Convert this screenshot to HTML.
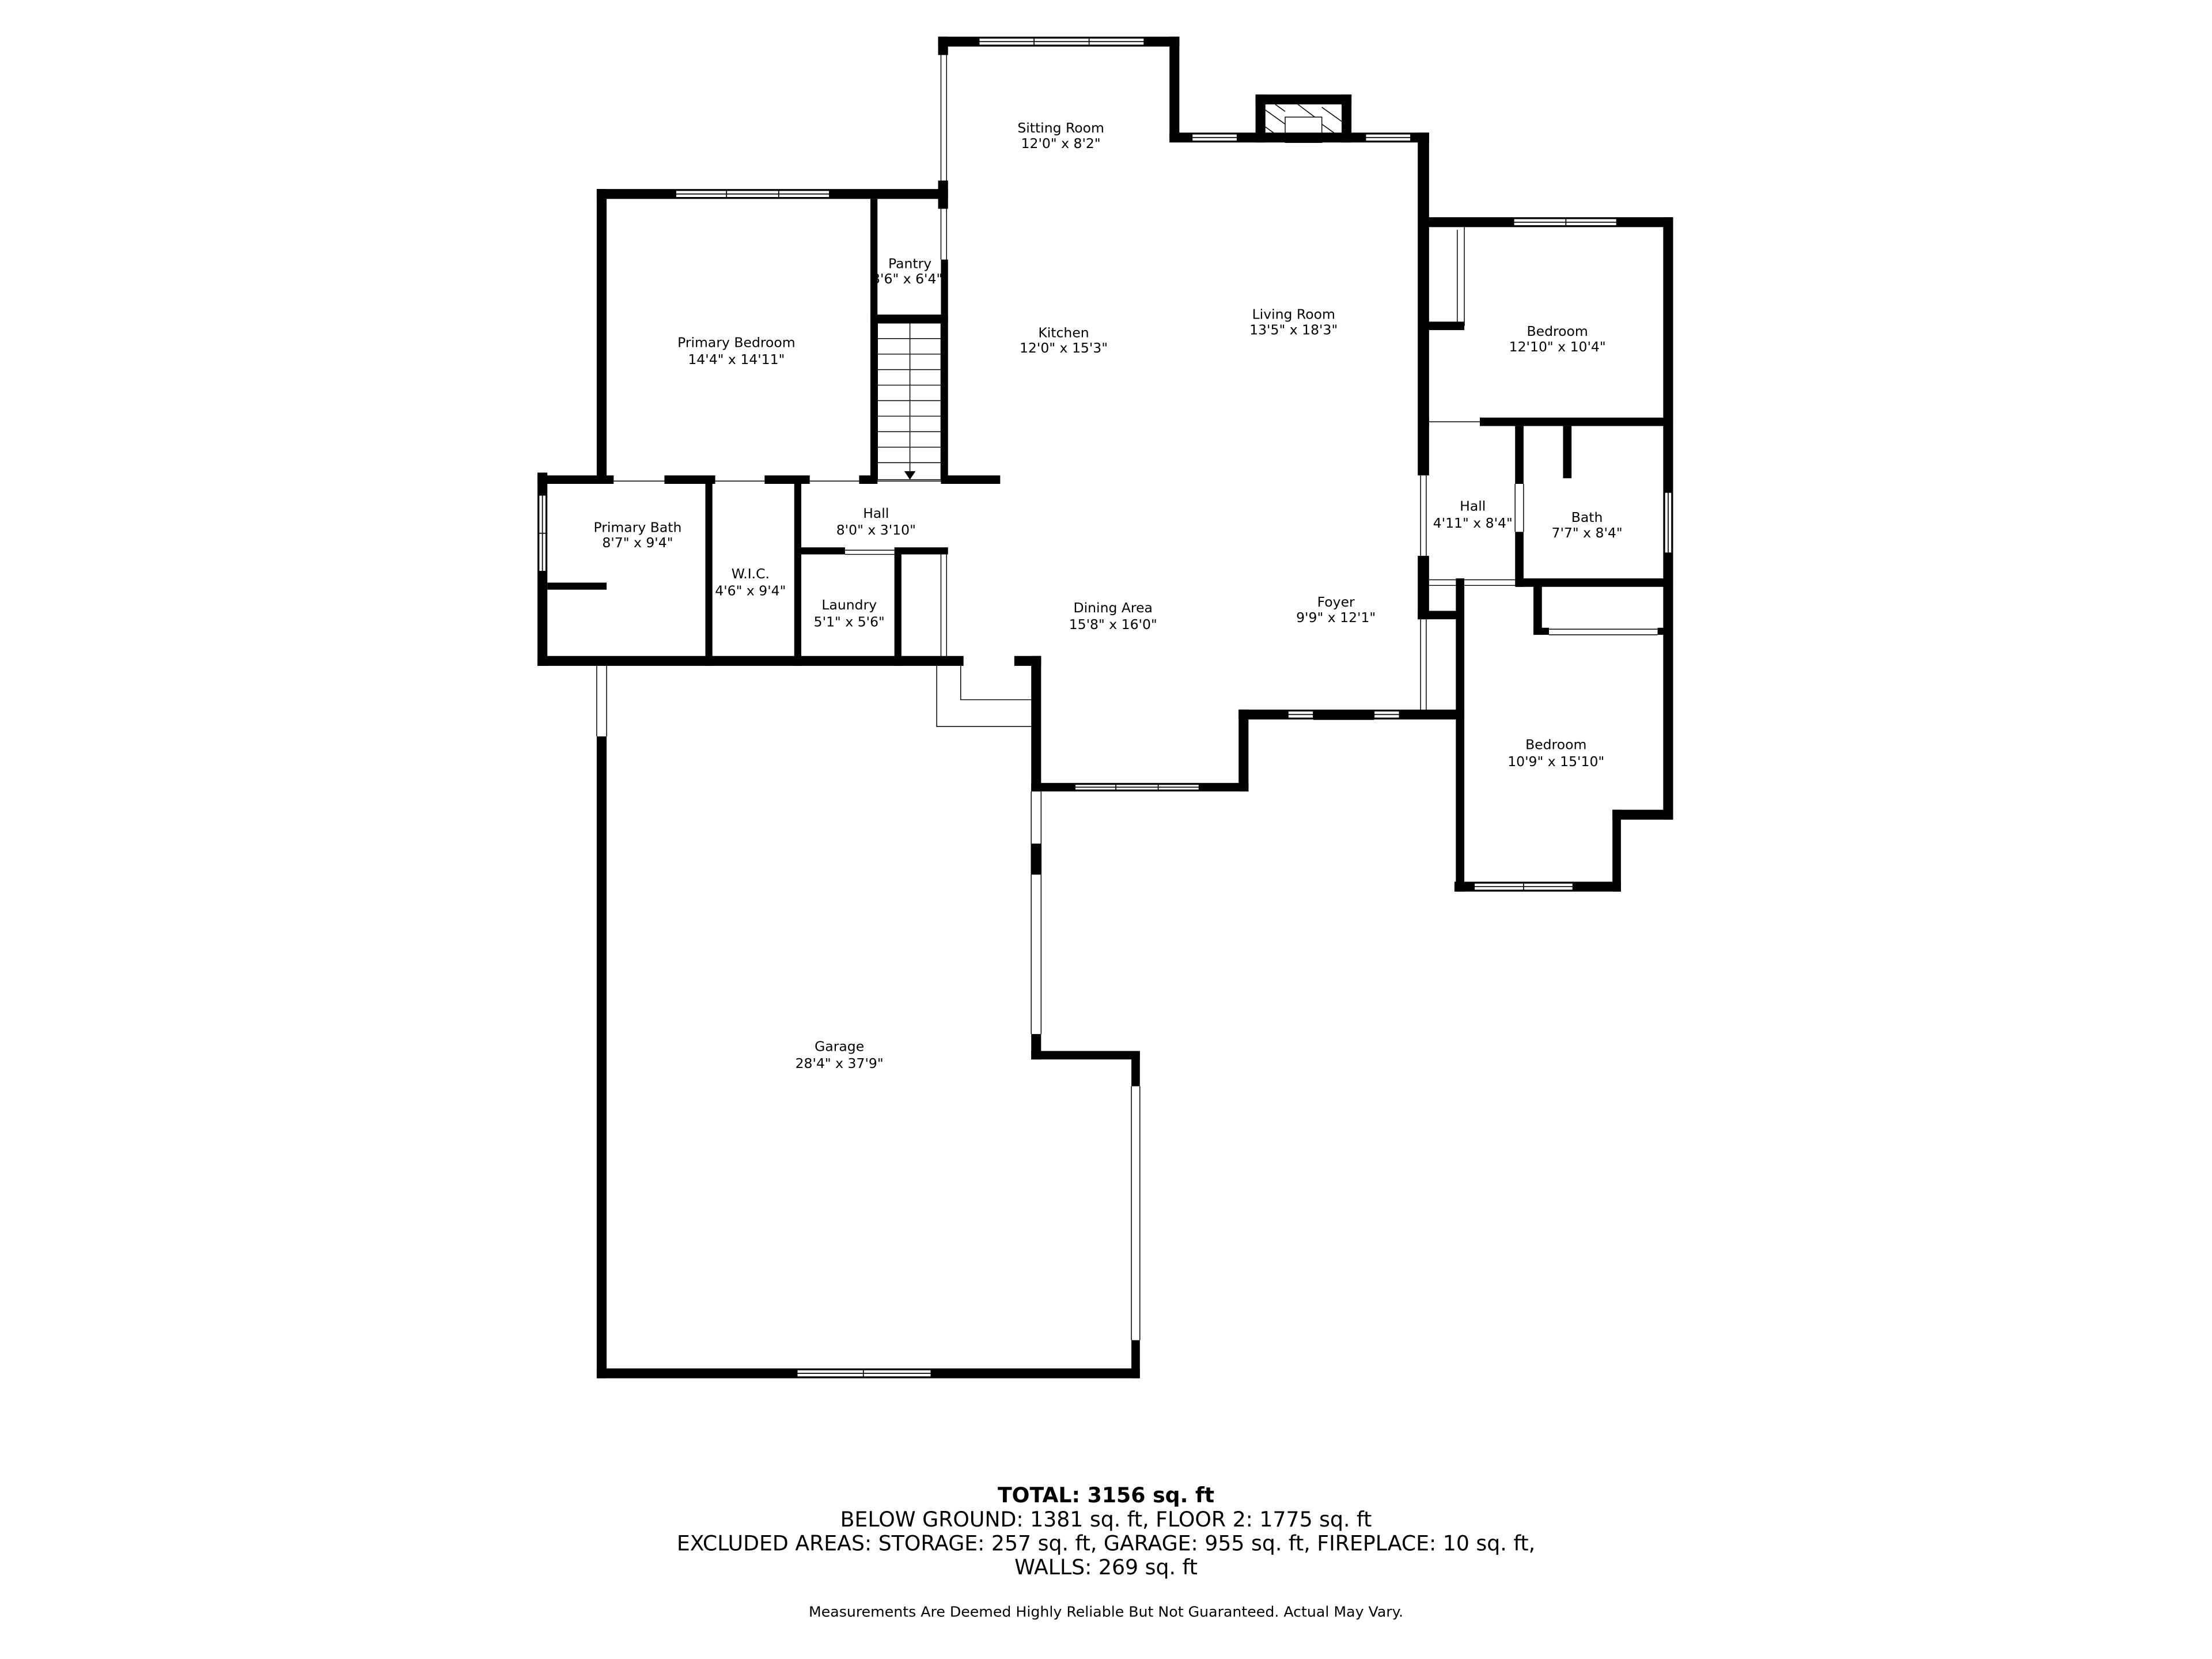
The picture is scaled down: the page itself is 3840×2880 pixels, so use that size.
<!DOCTYPE html>
<html><head><meta charset="utf-8"><style>
html,body{margin:0;padding:0;background:#fff}
svg{display:block}
text{font-family:"DejaVu Sans","Liberation Sans",sans-serif;fill:#000;text-anchor:middle}
</style></head><body>
<svg width="3840" height="2880" viewBox="0 0 1568 1176" xmlns="http://www.w3.org/2000/svg">
<rect width="1568" height="1176" fill="#fff"/>
<g fill="#000">
<rect x="665" y="26" width="171" height="7"/>
<rect x="665" y="26" width="7" height="13"/>
<rect x="665" y="128" width="7" height="20"/>
<rect x="667" y="184" width="5" height="157"/>
<rect x="829" y="26" width="7" height="74"/>
<rect x="829" y="94" width="184" height="7"/>
<rect x="890" y="67" width="68" height="7"/>
<rect x="890" y="67" width="7" height="34"/>
<rect x="951" y="67" width="7" height="34"/>
<rect x="423" y="134" width="249" height="7"/>
<rect x="423" y="134" width="7" height="209"/>
<rect x="617" y="141" width="5" height="201"/>
<rect x="617" y="223" width="55" height="6"/>
<rect x="381" y="337" width="54" height="6"/>
<rect x="471" y="337" width="36" height="6"/>
<rect x="542" y="337" width="32" height="6"/>
<rect x="609" y="337" width="13" height="6"/>
<rect x="667" y="337" width="42" height="6"/>
<rect x="381" y="335" width="7" height="137"/>
<rect x="388" y="413" width="42" height="5"/>
<rect x="500" y="342" width="5" height="130"/>
<rect x="563" y="342" width="5" height="130"/>
<rect x="568" y="388" width="31" height="5"/>
<rect x="634" y="388" width="38" height="5"/>
<rect x="634" y="393" width="5" height="79"/>
<rect x="381" y="465" width="302" height="7"/>
<rect x="719" y="465" width="19" height="7"/>
<rect x="731" y="465" width="7" height="96"/>
<rect x="731" y="555" width="154" height="6"/>
<rect x="878" y="503" width="7" height="58"/>
<rect x="878" y="503" width="160" height="7"/>
<rect x="1005" y="94" width="8" height="243"/>
<rect x="1005" y="394" width="8" height="45"/>
<rect x="1005" y="433" width="28" height="6"/>
<rect x="1007" y="154" width="179" height="7"/>
<rect x="1179" y="154" width="7" height="427"/>
<rect x="1007" y="228" width="31" height="6"/>
<rect x="1049" y="296" width="137" height="6"/>
<rect x="1007" y="296" width="6" height="6"/>
<rect x="1074" y="302" width="6" height="41"/>
<rect x="1074" y="377" width="6" height="39"/>
<rect x="1108" y="302" width="6" height="37"/>
<rect x="1075" y="410" width="111" height="6"/>
<rect x="1032" y="410" width="6" height="222"/>
<rect x="1087" y="414" width="6" height="36"/>
<rect x="1087" y="445" width="11" height="5"/>
<rect x="1175" y="445" width="11" height="5"/>
<rect x="1143" y="574" width="43" height="7"/>
<rect x="1143" y="574" width="6" height="58"/>
<rect x="1031" y="625" width="118" height="7"/>
<rect x="423" y="522" width="7" height="455"/>
<rect x="731" y="598" width="7" height="22"/>
<rect x="731" y="733" width="7" height="18"/>
<rect x="731" y="745" width="77" height="6"/>
<rect x="802" y="745" width="6" height="25"/>
<rect x="802" y="950" width="6" height="27"/>
<rect x="423" y="970" width="385" height="7"/>
</g>
<g stroke="#000" stroke-width="0.6" fill="none">
<line x1="667" y1="39" x2="667" y2="128"/><line x1="671" y1="39" x2="671" y2="128"/>
<line x1="667" y1="148" x2="667" y2="184"/><line x1="671" y1="148" x2="671" y2="184"/>
<line x1="1007" y1="337" x2="1007" y2="394"/><line x1="1011" y1="337" x2="1011" y2="394"/>
<line x1="1007" y1="439" x2="1007" y2="503"/><line x1="1011" y1="439" x2="1011" y2="503"/>
<line x1="1033" y1="163" x2="1033" y2="231"/><line x1="1038" y1="161" x2="1038" y2="231"/>
<line x1="1011" y1="299" x2="1049" y2="299"/>
<line x1="1074" y1="343" x2="1074" y2="377"/><line x1="1080" y1="343" x2="1080" y2="377"/>
<line x1="1010" y1="411" x2="1075" y2="411"/><line x1="1010" y1="415" x2="1075" y2="415"/>
<line x1="1098" y1="446" x2="1175" y2="446"/><line x1="1098" y1="450" x2="1175" y2="450"/>
<line x1="931" y1="506" x2="974" y2="506"/><line x1="931" y1="510" x2="974" y2="510"/>
<line x1="599" y1="390" x2="634" y2="390"/><line x1="599" y1="393" x2="634" y2="393"/>
<line x1="667" y1="393" x2="667" y2="466"/><line x1="671" y1="393" x2="671" y2="466"/>
<line x1="435" y1="341" x2="471" y2="341"/><line x1="507" y1="341" x2="542" y2="341"/><line x1="574" y1="341" x2="609" y2="341"/><line x1="622" y1="341" x2="667" y2="341"/>
<line x1="423" y1="472" x2="423" y2="522"/><line x1="430" y1="472" x2="430" y2="522"/>
<line x1="731" y1="561" x2="731" y2="733"/><line x1="738" y1="561" x2="738" y2="733"/>
<line x1="802" y1="770" x2="802" y2="950"/><line x1="808" y1="770" x2="808" y2="950"/>
<polyline points="664,472 664,515 731,515"/>
<polyline points="681,472 681,496 731,496"/>
<rect x="622" y="229" width="45" height="111"/>
<line x1="622" y1="240" x2="667" y2="240"/><line x1="622" y1="251" x2="667" y2="251"/><line x1="622" y1="262" x2="667" y2="262"/><line x1="622" y1="273" x2="667" y2="273"/><line x1="622" y1="284" x2="667" y2="284"/><line x1="622" y1="295" x2="667" y2="295"/><line x1="622" y1="306" x2="667" y2="306"/><line x1="622" y1="317" x2="667" y2="317"/><line x1="622" y1="328" x2="667" y2="328"/>
<line x1="645" y1="229" x2="645" y2="338"/>
<line x1="897" y1="78" x2="911" y2="88"/><line x1="897" y1="90" x2="911" y2="100"/><line x1="904" y1="74" x2="911" y2="79"/>
<line x1="937" y1="76" x2="951" y2="86"/><line x1="937" y1="88" x2="951" y2="98"/><line x1="920" y1="74" x2="932" y2="83"/>
<rect x="911" y="83" width="26" height="18"/>
</g>
<polygon points="641,334 649,334 645,340" fill="#000"/>
<g fill="#fff" stroke="#000" stroke-width="0.7">
<rect x="694" y="27" width="117" height="5"/><line x1="694" y1="29.5" x2="811" y2="29.5"/><line x1="733" y1="27" x2="733" y2="32"/><line x1="772" y1="27" x2="772" y2="32"/>
<rect x="479" y="135" width="109" height="5"/><line x1="479" y1="137.5" x2="588" y2="137.5"/><line x1="515" y1="135" x2="515" y2="140"/><line x1="552" y1="135" x2="552" y2="140"/>
<rect x="845" y="95" width="32" height="5"/><line x1="845" y1="97.5" x2="877" y2="97.5"/>
<rect x="968" y="95" width="32" height="5"/><line x1="968" y1="97.5" x2="1000" y2="97.5"/>
<rect x="1073" y="155" width="73" height="5"/><line x1="1073" y1="157.5" x2="1146" y2="157.5"/><line x1="1110" y1="155" x2="1110" y2="160"/>
<rect x="1180" y="349" width="5" height="43"/><line x1="1182.5" y1="349" x2="1182.5" y2="392"/>
<rect x="382" y="351" width="5" height="54"/><line x1="384.5" y1="351" x2="384.5" y2="405"/><line x1="382" y1="378" x2="387" y2="378"/>
<rect x="1045" y="626" width="70" height="5"/><line x1="1045" y1="628.5" x2="1115" y2="628.5"/><line x1="1080" y1="626" x2="1080" y2="631"/>
<rect x="913" y="504" width="18" height="5"/><line x1="913" y1="506.5" x2="931" y2="506.5"/>
<rect x="974" y="504" width="18" height="5"/><line x1="974" y1="506.5" x2="992" y2="506.5"/>
<rect x="762" y="556" width="88" height="4"/><line x1="762" y1="558" x2="850" y2="558"/><line x1="791" y1="556" x2="791" y2="560"/><line x1="821" y1="556" x2="821" y2="560"/>
<rect x="565" y="971" width="95" height="5"/><line x1="565" y1="973.5" x2="660" y2="973.5"/><line x1="612" y1="971" x2="612" y2="976"/>
</g>
<g font-size="9.6">
<text x="752" y="94">Sitting Room</text><text x="752" y="105">12'0" x 8'2"</text>
<text x="522" y="246">Primary Bedroom</text><text x="522" y="258">14'4" x 14'11"</text>
<text x="645" y="190">Pantry</text><text x="643" y="201">3'6" x 6'4"</text>
<text x="754" y="239">Kitchen</text><text x="754" y="250">12'0" x 15'3"</text>
<text x="917" y="226">Living Room</text><text x="917" y="237">13'5" x 18'3"</text>
<text x="1104" y="238">Bedroom</text><text x="1104" y="249">12'10" x 10'4"</text>
<text x="621" y="367">Hall</text><text x="621" y="379">8'0" x 3'10"</text>
<text x="452" y="377">Primary Bath</text><text x="452" y="388">8'7" x 9'4"</text>
<text x="532" y="410">W.I.C.</text><text x="532" y="422">4'6" x 9'4"</text>
<text x="602" y="432">Laundry</text><text x="602" y="444">5'1" x 5'6"</text>
<text x="789" y="434">Dining Area</text><text x="789" y="446">15'8" x 16'0"</text>
<text x="947" y="430">Foyer</text><text x="947" y="441">9'9" x 12'1"</text>
<text x="1044" y="362">Hall</text><text x="1044" y="374">4'11" x 8'4"</text>
<text x="1125" y="370">Bath</text><text x="1125" y="381">7'7" x 8'4"</text>
<text x="1103" y="531">Bedroom</text><text x="1103" y="543">10'9" x 15'10"</text>
<text x="595" y="745">Garage</text><text x="595" y="757">28'4" x 37'9"</text>
</g>
<g font-size="14.8">
<text x="784" y="1065" font-weight="bold">TOTAL: 3156 sq. ft</text>
<text x="784" y="1082">BELOW GROUND: 1381 sq. ft, FLOOR 2: 1775 sq. ft</text>
<text x="784" y="1099">EXCLUDED AREAS: STORAGE: 257 sq. ft, GARAGE: 955 sq. ft, FIREPLACE: 10 sq. ft,</text>
<text x="784" y="1116">WALLS: 269 sq. ft</text>
</g>
<text x="784" y="1146" font-size="10.3">Measurements Are Deemed Highly Reliable But Not Guaranteed. Actual May Vary.</text>
</svg>
</body></html>
